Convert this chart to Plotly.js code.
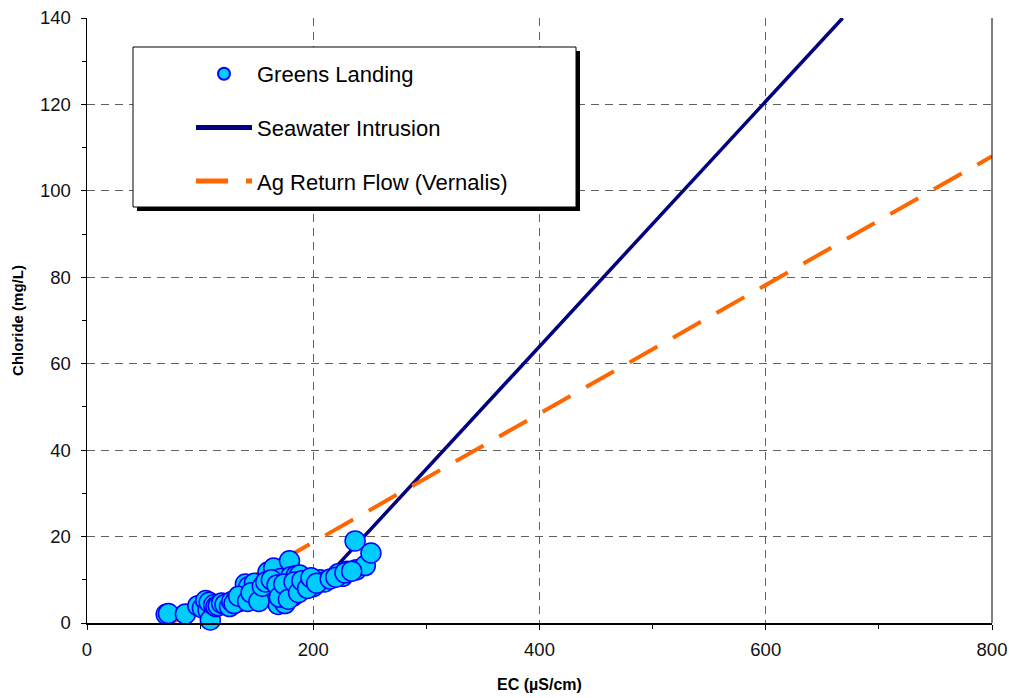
<!DOCTYPE html>
<html>
<head>
<meta charset="utf-8">
<script src="https://cdn.plot.ly/plotly-3.0.1.min.js"></script>
<style>
  html, body { margin: 0; padding: 0; background: #fff; }
  #chart { width: 1009px; height: 698px; }
</style>
</head>
<body>
<div id="chart"></div>
<script>
// ---- Data ----
const greensEC = [70, 72, 87, 98, 102, 105, 107, 108, 109, 112, 114, 116, 119, 122, 126, 128,
  132, 135, 138, 140, 143, 146, 148, 150, 153, 156, 159, 160, 162, 165, 165, 169, 171, 172,
  175, 177, 179, 180, 182, 184, 185, 188, 192, 196, 200, 206, 210, 222, 226, 230, 238, 246, 237, 251,
  130, 134, 142, 145, 152, 155, 158, 163, 168, 170, 174, 178, 183, 187, 190, 195, 198, 203, 215, 220, 228, 234];
const greensCl = [2.0, 2.2, 2.1, 4.0, 3.5, 5.2, 3.0, 4.8, 0.7, 4.2, 3.8, 4.0, 4.6, 4.3, 3.8, 5.0,
  5.5, 5.0, 6.0, 9.0, 8.4, 5.7, 9.2, 6.5, 7.5, 6.1, 6.5, 11.8, 7.6, 12.7, 8.0, 4.3, 10.3, 6.5,
  4.5, 7.6, 14.4, 10.7, 6.2, 7.6, 11.0, 11.1, 8.8, 10.0, 8.4, 10.0, 9.5, 11.4, 10.8, 12.0, 12.3, 13.3, 19.0, 16.2,
  4.5, 6.2, 5.0, 7.0, 5.0, 8.5, 9.5, 10.0, 8.8, 6.0, 9.0, 5.5, 9.5, 7.0, 9.8, 8.0, 10.5, 9.2, 10.2, 10.6, 11.6, 12.0];

const seawaterEC = [205, 668];
const seawaterCl = [8.7, 140];

const agReturnEC = [57, 200, 250, 500, 800];
const agReturnCl = [-2.6, 18.7, 26.0, 63.4, 108.0];

const xTicks = [0, 200, 400, 600, 800];
const yTicks = [0, 20, 40, 60, 80, 100, 120, 140];

const FONT = '"Liberation Sans", Arial, sans-serif';

const traces = [
  {
    x: seawaterEC, y: seawaterCl, type: 'scatter', mode: 'lines',
    name: 'Seawater Intrusion', legendrank: 2, legendgroup: 'b',
    line: { color: '#000080', width: 3.5 }
  },
  {
    x: agReturnEC, y: agReturnCl, type: 'scatter', mode: 'lines',
    name: 'Ag Return Flow (Vernalis)', legendrank: 3, legendgroup: 'c',
    line: { color: '#FF6600', width: 4, dash: '32px,18px' }
  },
  {
    x: greensEC, y: greensCl, type: 'scatter', mode: 'markers',
    name: 'Greens Landing', legendrank: 1, legendgroup: 'a',
    marker: { color: '#00CCFF', size: 20, line: { color: '#0000FF', width: 1.5 } },
    cliponaxis: false
  }
];

// paper-coordinate helpers for the legend frame (plot area 87..992 x 18..623 px)
const px2x = p => (p - 87) / 905;
const px2y = p => (623 - p) / 605;

const layout = {
  width: 1009, height: 698,
  margin: { l: 87, r: 17, t: 18, b: 75 },
  paper_bgcolor: '#ffffff', plot_bgcolor: '#ffffff',
  font: { family: FONT, color: '#000' },
  showlegend: true,
  legend: {
    x: px2x(191), y: px2y(53), xanchor: 'left', yanchor: 'top',
    bgcolor: 'rgba(0,0,0,0)', borderwidth: 0,
    font: { family: FONT, size: 22, color: '#000' },
    traceorder: 'grouped', tracegroupgap: 22, itemsizing: 'constant', itemwidth: 56
  },
  xaxis: {
    range: [0, 800], tickvals: xTicks, ticktext: xTicks.map(String),
    showline: true, linecolor: '#000', linewidth: 1.5,
    ticks: 'outside', ticklen: 5, tickcolor: '#000',
    minor: { dtick: 100, ticks: 'outside', ticklen: 4, tickcolor: '#000', showgrid: false },
    showgrid: true, gridcolor: '#606060', gridwidth: 1, griddash: '8px,6px',
    zeroline: false,
    tickfont: { family: FONT, size: 18.5, color: '#111' },
    ticklabelstandoff: 4,
    title: { text: '<b>EC (µS/cm)</b>', font: { family: FONT, size: 16, color: '#000' }, standoff: 20 }
  },
  yaxis: {
    range: [0, 140], tickvals: yTicks, ticktext: yTicks.map(String),
    showline: true, linecolor: '#000', linewidth: 1.5,
    ticks: 'outside', ticklen: 5, tickcolor: '#000',
    minor: { dtick: 10, ticks: 'outside', ticklen: 4, tickcolor: '#000', showgrid: false },
    showgrid: true, gridcolor: '#606060', gridwidth: 1, griddash: '8px,6px',
    zeroline: false,
    tickfont: { family: FONT, size: 18.5, color: '#111' },
    ticklabelstandoff: 6,
    title: { text: '<b>Chloride (mg/L)</b>', font: { family: FONT, size: 15, color: '#000' }, standoff: 12 }
  },
  shapes: [
    // right frame line of the plot area
    { type: 'line', xref: 'paper', yref: 'paper', x0: 1, x1: 1, y0: 0, y1: 1,
      line: { color: '#000', width: 1 }, layer: 'above' },
    // legend shadow
    { type: 'rect', xref: 'paper', yref: 'paper',
      x0: px2x(137), x1: px2x(580), y0: px2y(211), y1: px2y(51),
      fillcolor: '#000', line: { width: 0 }, layer: 'above' },
    // legend box
    { type: 'rect', xref: 'paper', yref: 'paper',
      x0: px2x(133), x1: px2x(576), y0: px2y(207), y1: px2y(47),
      fillcolor: '#fff', line: { color: '#000', width: 1 }, layer: 'above' }
  ]
};

Plotly.newPlot('chart', traces, layout, { displayModeBar: false, staticPlot: true });
</script>
</body>
</html>
